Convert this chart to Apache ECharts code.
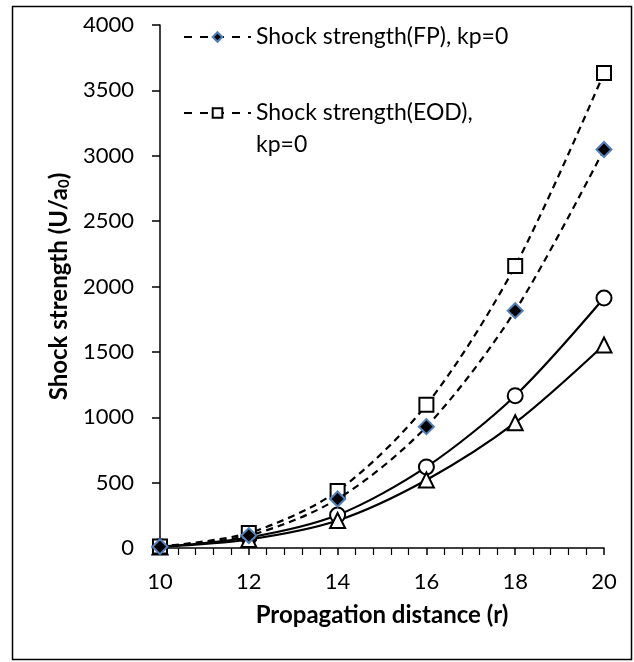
<!DOCTYPE html>
<html>
<head>
<meta charset="utf-8">
<script src="https://cdn.jsdelivr.net/npm/echarts@6/dist/echarts.min.js"></script>
<style>
  html, body { margin: 0; padding: 0; background: #fff; }
  #chart { width: 634px; height: 662px; }
</style>
</head>
<body>
<div id="chart"></div>
<script>
// propagation distance r
var distance = [10, 12, 14, 16, 18, 20];
// shock strength values
var fpKp0 = [10, 95, 375, 928, 1815, 3048];
var eodKp0 = [12, 115, 436, 1095, 2157, 3632];
var circleSeries = [10, 80, 252, 620, 1165, 1912];
var triangleSeries = [8, 65, 210, 520, 958, 1553];

var yTicks = [0, 500, 1000, 1500, 2000, 2500, 3000, 3500, 4000];

var font = 'Lato';

function pairs(vals) {
  return distance.map(function (r, i) { return [r, vals[i]]; });
}

var chart = echarts.init(document.getElementById('chart'));

chart.setOption({
  animation: false,
  backgroundColor: '#fff',
  textStyle: { fontFamily: font, color: '#000' },
  graphic: [{
    type: 'rect',
    shape: { x: 12.5, y: 6.5, width: 619, height: 653 },
    style: { fill: 'none', stroke: '#000', lineWidth: 1.5 },
    silent: true
  }],
  grid: { left: 160, right: 30, top: 25, bottom: 114 },
  legend: {
    orient: 'vertical',
    left: 178,
    top: 16,
    itemWidth: 67,
    itemHeight: 12,
    itemGap: 12,
    lineStyle: { type: [8, 8], width: 2 },
    textStyle: { fontFamily: font, fontSize: 23, color: '#000', lineHeight: 32 },
    data: ['Shock strength(FP), kp=0', 'Shock strength(EOD), kp=0'],
    formatter: function (name) {
      // blank first line keeps the marker level with the first text line
      return name === 'Shock strength(EOD), kp=0' ? ' \nShock strength(EOD),\nkp=0' : name;
    }
  },
  xAxis: {
    type: 'value',
    min: 10,
    max: 20,
    interval: 2,
    name: 'Propagation distance (r)',
    nameLocation: 'middle',
    nameGap: 55,
    nameTextStyle: { fontFamily: font, fontSize: 24, fontWeight: 'bold', color: '#000' },
    axisLine: { lineStyle: { color: '#000', width: 1.5 } },
    axisTick: { inside: false, length: 7, lineStyle: { color: '#000', width: 1.5 } },
    minorTick: { show: true, splitNumber: 5, length: 7, lineStyle: { color: '#000', width: 1.2 } },
    axisLabel: { fontFamily: font, fontSize: 22, color: '#000', margin: 23 },
    splitLine: { show: false }
  },
  yAxis: {
    type: 'value',
    min: yTicks[0],
    max: yTicks[yTicks.length - 1],
    interval: 500,
    name: '{b|Shock strength (U/a}{s|0}{b|)}',
    nameLocation: 'middle',
    nameGap: 86,
    nameTextStyle: {
      rich: {
        b: { fontFamily: font, fontSize: 24, fontWeight: 'bold', color: '#000' },
        s: { fontFamily: font, fontSize: 15, fontWeight: 'bold', color: '#000', verticalAlign: 'bottom', padding: [10, 0, 0, 0] }
      }
    },
    axisLine: { show: true, lineStyle: { color: '#000', width: 1.5 } },
    axisTick: { show: true, inside: false, length: 8, lineStyle: { color: '#000', width: 1.5 } },
    axisLabel: {
      fontFamily: font, fontSize: 22, color: '#000', margin: 26,
      formatter: function (v) { return String(v); }
    },
    splitLine: { show: false }
  },
  series: [
    {
      name: 'circle series',
      type: 'line',
      data: pairs(circleSeries),
      smooth: 0.3,
      symbol: 'circle',
      symbolSize: 15,
      lineStyle: { color: '#000', width: 2.2 },
      itemStyle: { color: '#fff', borderColor: '#000', borderWidth: 2 },
      z: 2
    },
    {
      name: 'triangle series',
      type: 'line',
      data: pairs(triangleSeries),
      smooth: 0.3,
      symbol: 'triangle',
      symbolSize: 15,
      lineStyle: { color: '#000', width: 2.2 },
      itemStyle: { color: '#fff', borderColor: '#000', borderWidth: 2 },
      z: 2
    },
    {
      name: 'Shock strength(EOD), kp=0',
      type: 'line',
      data: pairs(eodKp0),
      smooth: 0.3,
      symbol: 'rect',
      symbolSize: 14,
      lineStyle: { color: '#000', width: 2.2, type: [7, 5] },
      itemStyle: { color: '#fff', borderColor: '#000', borderWidth: 2 },
      z: 3
    },
    {
      name: 'Shock strength(FP), kp=0',
      type: 'line',
      data: pairs(fpKp0),
      smooth: 0.3,
      symbol: 'diamond',
      symbolSize: 15,
      lineStyle: { color: '#000', width: 2.2, type: [7, 5] },
      itemStyle: { color: '#000', borderColor: '#4f81bd', borderWidth: 2 },
      z: 4
    }
  ]
});
</script>
</body>
</html>
